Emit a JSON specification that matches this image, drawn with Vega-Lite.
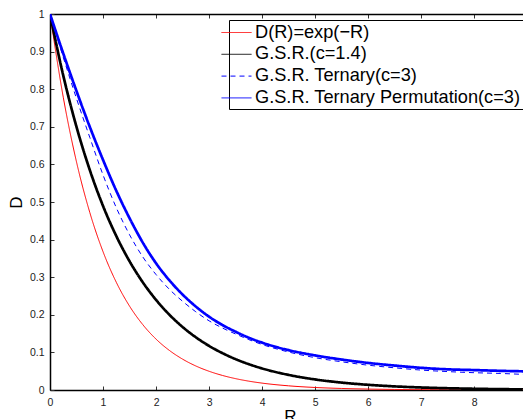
{
  "$schema": "https://vega.github.io/schema/vega-lite/v6.json",
  "width": 473,
  "height": 376,
  "autosize": {"type": "none"},
  "padding": {"left": 50, "top": 14, "right": 0, "bottom": 29},
  "background": "white",
  "config": {"view": {"stroke": null}, "font": "Liberation Sans"},
  "data": {
    "values": [
      {"R": 0, "a": 1, "b": 1, "c": 1, "d": 1},
      {"R": 0.25, "a": 0.7788, "b": 0.8364, "c": 0.885, "d": 0.895},
      {"R": 0.5, "a": 0.6065, "b": 0.6997, "c": 0.775, "d": 0.795},
      {"R": 0.75, "a": 0.4724, "b": 0.5853, "c": 0.672, "d": 0.7},
      {"R": 1, "a": 0.3679, "b": 0.4895, "c": 0.572, "d": 0.612},
      {"R": 1.25, "a": 0.2865, "b": 0.4095, "c": 0.485, "d": 0.53},
      {"R": 1.5, "a": 0.2231, "b": 0.3425, "c": 0.413, "d": 0.457},
      {"R": 1.75, "a": 0.1738, "b": 0.2865, "c": 0.354, "d": 0.392},
      {"R": 2, "a": 0.1353, "b": 0.2397, "c": 0.307, "d": 0.337},
      {"R": 2.25, "a": 0.1054, "b": 0.2005, "c": 0.268, "d": 0.292},
      {"R": 2.5, "a": 0.0821, "b": 0.1677, "c": 0.236, "d": 0.254},
      {"R": 2.75, "a": 0.0639, "b": 0.1403, "c": 0.208, "d": 0.222},
      {"R": 3, "a": 0.0498, "b": 0.1173, "c": 0.184, "d": 0.195},
      {"R": 3.25, "a": 0.0388, "b": 0.0982, "c": 0.165, "d": 0.173},
      {"R": 3.5, "a": 0.0302, "b": 0.0821, "c": 0.149, "d": 0.155},
      {"R": 3.75, "a": 0.0235, "b": 0.0687, "c": 0.134, "d": 0.139},
      {"R": 4, "a": 0.0183, "b": 0.0574, "c": 0.121, "d": 0.126},
      {"R": 4.5, "a": 0.0111, "b": 0.0402, "c": 0.101, "d": 0.106},
      {"R": 5, "a": 0.0067, "b": 0.0281, "c": 0.086, "d": 0.092},
      {"R": 5.5, "a": 0.0041, "b": 0.0197, "c": 0.075, "d": 0.081},
      {"R": 6, "a": 0.0025, "b": 0.0138, "c": 0.066, "d": 0.072},
      {"R": 6.5, "a": 0.0015, "b": 0.0096, "c": 0.059, "d": 0.065},
      {"R": 7, "a": 0.0009, "b": 0.0067, "c": 0.053, "d": 0.059},
      {"R": 7.5, "a": 0.0006, "b": 0.0047, "c": 0.049, "d": 0.055},
      {"R": 8, "a": 0.0003, "b": 0.0033, "c": 0.046, "d": 0.053},
      {"R": 8.5, "a": 0.0002, "b": 0.0023, "c": 0.044, "d": 0.051},
      {"R": 9, "a": 0.0001, "b": 0.0016, "c": 0.041, "d": 0.0495}
    ]
  },
  "transform": [{"fold": ["a", "b", "c", "d"], "as": ["series", "D"]}],
  "resolve": {"axis": {"x": "independent", "y": "independent"}},
  "encoding": {
    "x": {"field": "R", "type": "quantitative", "scale": {"domain": [0, 8.92], "nice": false, "zero": false}},
    "y": {"field": "D", "type": "quantitative", "scale": {"domain": [0, 1], "nice": false}}
  },
  "layer": [
    {
      "transform": [{"filter": "datum.series == 'a' || datum.series == 'c'"}],
      "mark": {"type": "line", "clip": true, "interpolate": "monotone", "strokeWidth": 1},
      "encoding": {
        "x": {
          "field": "R", "type": "quantitative",
          "axis": {
            "values": [0, 1, 2, 3, 4, 5, 6, 7, 8],
            "grid": false, "tickSize": -4, "labelPadding": 11,
            "domainColor": "black", "domainWidth": 1.5, "tickColor": "#333",
            "labelFontSize": 10.5, "labelColor": "#222", "labelFlush": false,
            "title": "R", "titleFontSize": 17, "titleFontWeight": "normal",
            "titleColor": "black", "titlePadding": 1, "titleX": 240
          }
        },
        "y": {
          "field": "D", "type": "quantitative",
          "axis": {
            "values": [0, 0.1, 0.2, 0.3, 0.4, 0.5, 0.6, 0.7, 0.8, 0.9, 1],
            "format": "~g", "grid": false, "tickSize": -4, "labelPadding": 10,
            "domainColor": "black", "domainWidth": 1.5, "tickColor": "#333",
            "labelFontSize": 10.5, "labelColor": "#222", "labelFlush": false,
            "title": "D", "titleFontSize": 17, "titleFontWeight": "normal",
            "titleColor": "black", "titlePadding": 4
          }
        },
        "color": {
          "field": "series", "type": "nominal",
          "scale": {"domain": ["a", "b", "c", "d"], "range": ["#ff0000", "#000000", "#0000ff", "#0000ff"]},
          "legend": {
            "orient": "none", "legendX": 179, "legendY": 6, "title": null,
            "symbolType": "M-2,0L1,0", "symbolSize": 400, "symbolStrokeWidth": 1,
            "labelFontSize": 18.2, "labelFont": "Liberation Sans", "labelColor": "black",
            "strokeColor": "black", "fillColor": "white", "padding": 2,
            "rowPadding": 2.8, "labelOffset": 3, "labelLimit": 400,
            "labelExpr": "datum.label == 'a' ? 'D(R)=exp(−R)' : datum.label == 'b' ? 'G.S.R.(c=1.4)' : datum.label == 'c' ? 'G.S.R. Ternary(c=3)' : 'G.S.R. Ternary Permutation(c=3)'",
            "encode": {
              "symbols": {
                "update": {
                  "stroke": {"scale": "color", "field": "value"},
                  "strokeWidth": {"value": 1},
                  "fill": {"value": "transparent"}
                }
              }
            }
          }
        },
        "strokeDash": {
          "field": "series", "type": "nominal",
          "scale": {"domain": ["a", "b", "c", "d"], "range": [[1, 0], [1, 0], [5, 4], [1, 0]]}
        }
      }
    },
    {
      "transform": [{"filter": "datum.series == 'b' || datum.series == 'd'"}],
      "mark": {"type": "line", "clip": true, "interpolate": "monotone", "strokeWidth": 2.7},
      "encoding": {
        "x": {
          "field": "R", "type": "quantitative",
          "axis": {
            "orient": "top", "values": [0, 1, 2, 3, 4, 5, 6, 7, 8],
            "labels": false, "title": null, "grid": false, "tickSize": -4,
            "domainColor": "black", "domainWidth": 1.5, "tickColor": "#333"
          }
        },
        "y": {"field": "D", "type": "quantitative", "axis": null},
        "color": {"field": "series", "type": "nominal"},
        "strokeDash": {"field": "series", "type": "nominal"}
      }
    }
  ]
}
